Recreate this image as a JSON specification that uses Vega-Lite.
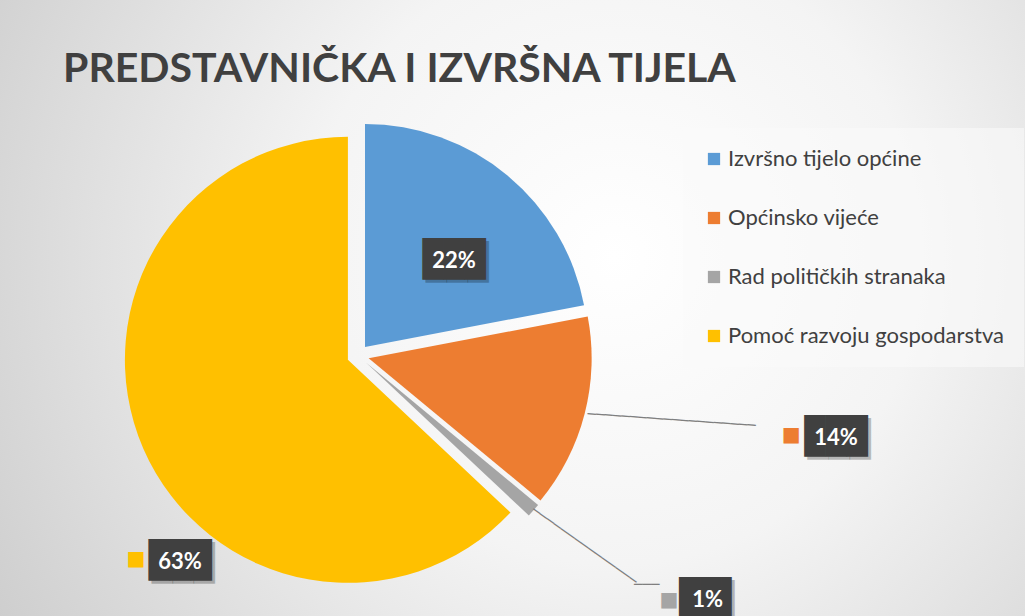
{
  "$schema": "https://vega.github.io/schema/vega-lite/v6.json",
  "width": 1025,
  "height": 616,
  "autosize": "none",
  "padding": 0,
  "background": "#ffffff",
  "title": {
    "text": "PREDSTAVNIČKA I IZVRŠNA TIJELA",
    "orient": "none",
    "anchor": "start",
    "dx": 63,
    "dy": 82,
    "baseline": "alphabetic",
    "font": "Lato",
    "fontSize": 41,
    "fontWeight": "bold",
    "color": "#404040"
  },
  "config": {"view": {"stroke": null}},
  "data": {
    "values": [
      {"cat": "Izvršno tijelo općine", "value": 22, "idx": 1, "label": "22%"},
      {"cat": "Općinsko vijeće", "value": 14, "idx": 2, "label": "14%"},
      {"cat": "Rad političkih stranaka", "value": 1, "idx": 3, "label": "1%"},
      {"cat": "Pomoć razvoju gospodarstva", "value": 63, "idx": 4, "label": "63%"}
    ]
  },
  "layer": [
    {
      "data": {"values": [{}]},
      "mark": {
        "type": "rect",
        "color": {
          "gradient": "radial",
          "x1": 0.6, "y1": 0.45, "r1": 0,
          "x2": 0.6, "y2": 0.45, "r2": 0.75,
          "stops": [
            {"offset": 0, "color": "#ffffff"},
            {"offset": 0.4, "color": "#f4f4f4"},
            {"offset": 1, "color": "#c9c9c9"}
          ]
        }
      },
      "encoding": {
        "x": {"value": 0}, "x2": {"value": "width"},
        "y": {"value": 0}, "y2": {"value": "height"}
      }
    },
    {
      "mark": {"type": "arc", "outerRadius": 223, "xOffset": -147.5, "yOffset": 39},
      "encoding": {
        "theta": {"field": "value", "type": "quantitative", "stack": true},
        "order": {"field": "idx", "type": "quantitative"},
        "color": {
          "field": "cat", "type": "nominal",
          "scale": {
            "domain": ["Izvršno tijelo općine", "Općinsko vijeće", "Rad političkih stranaka", "Pomoć razvoju gospodarstva"],
            "range": ["#5b9bd5", "#ed7d31", "#a5a5a5", "#ffc000"]
          },
          "legend": {
            "title": null, "orient": "none", "legendX": 683, "legendY": 128,
            "symbolType": "square", "symbolSize": 150, "symbolStrokeWidth": 0, "symbolOpacity": 1,
            "labelFontSize": 22, "labelFont": "Lato", "labelColor": "#404040",
            "rowPadding": 37, "padding": 20, "labelOffset": 3, "labelLimit": 400,
            "fillColor": "rgba(250,250,250,0.6)"
          }
        },
        "opacity": {"condition": {"test": "datum.idx === 1", "value": 1}, "value": 0}
      }
    },
    {
      "mark": {"type": "arc", "outerRadius": 223, "xOffset": -143.85, "yOffset": 50.24},
      "encoding": {
        "theta": {"field": "value", "type": "quantitative", "stack": true},
        "order": {"field": "idx", "type": "quantitative"},
        "color": {"field": "cat", "type": "nominal"},
        "opacity": {"condition": {"test": "datum.idx === 2", "value": 1}, "value": 0}
      }
    },
    {
      "mark": {"type": "arc", "outerRadius": 223, "xOffset": -146.25, "yOffset": 54.77},
      "encoding": {
        "theta": {"field": "value", "type": "quantitative", "stack": true},
        "order": {"field": "idx", "type": "quantitative"},
        "color": {"field": "cat", "type": "nominal"},
        "opacity": {"condition": {"test": "datum.idx === 3", "value": 1}, "value": 0}
      }
    },
    {
      "mark": {"type": "arc", "outerRadius": 223, "xOffset": -164.6, "yOffset": 51.87},
      "encoding": {
        "theta": {"field": "value", "type": "quantitative", "stack": true},
        "order": {"field": "idx", "type": "quantitative"},
        "color": {"field": "cat", "type": "nominal"},
        "opacity": {"condition": {"test": "datum.idx === 4", "value": 1}, "value": 0}
      }
    },
    {
      "mark": {"type": "text", "radius": 237, "xOffset": -154.5, "yOffset": 47.5, "align": "left", "baseline": "middle", "angle": 4, "font": "DejaVu Sans Mono", "fontSize": 14, "color": "#7f7f7f"},
      "encoding": {
        "theta": {"field": "value", "type": "quantitative", "stack": true},
        "order": {"field": "idx", "type": "quantitative"},
        "detail": {"field": "cat", "type": "nominal"},
        "text": {"value": "────────────────────"},
        "opacity": {"condition": {"test": "datum.idx === 2", "value": 1}, "value": 0}
      }
    },
    {
      "mark": {"type": "text", "radius": 233, "xOffset": -154.5, "yOffset": 47.5, "align": "left", "baseline": "middle", "angle": 35.4, "font": "DejaVu Sans Mono", "fontSize": 14, "color": "#7f7f7f"},
      "encoding": {
        "theta": {"field": "value", "type": "quantitative", "stack": true},
        "order": {"field": "idx", "type": "quantitative"},
        "detail": {"field": "cat", "type": "nominal"},
        "text": {"value": "───────────────"},
        "opacity": {"condition": {"test": "datum.idx === 3", "value": 1}, "value": 0}
      }
    },
    {
      "mark": {"type": "text", "radius": 360, "xOffset": -154.5, "yOffset": 47.5, "dx": 6, "dy": -8.6, "align": "left", "baseline": "middle", "font": "DejaVu Sans Mono", "fontSize": 14, "color": "#7f7f7f"},
      "encoding": {
        "theta": {"field": "value", "type": "quantitative", "stack": true},
        "order": {"field": "idx", "type": "quantitative"},
        "detail": {"field": "cat", "type": "nominal"},
        "text": {"value": "───"},
        "opacity": {"condition": {"test": "datum.idx === 3", "value": 1}, "value": 0}
      }
    },
    {
      "mark": {"type": "text", "radius": 135, "xOffset": -154.5, "yOffset": 47.5, "dx": 13, "dy": 12, "align": "center", "baseline": "middle", "font": "DejaVu Sans Mono", "fontSize": 35, "color": "#000000", "fillOpacity": 0.25},
      "encoding": {
        "theta": {"field": "value", "type": "quantitative", "stack": true},
        "order": {"field": "idx", "type": "quantitative"},
        "detail": {"field": "cat", "type": "nominal"},
        "text": {"value": "███"},
        "opacity": {"condition": {"test": "datum.idx === 1", "value": 1}, "value": 0}
      }
    },
    {
      "mark": {"type": "text", "radius": 135, "xOffset": -154.5, "yOffset": 47.5, "dx": 10, "dy": 9, "align": "center", "baseline": "middle", "font": "DejaVu Sans Mono", "fontSize": 35, "color": "#404040"},
      "encoding": {
        "theta": {"field": "value", "type": "quantitative", "stack": true},
        "order": {"field": "idx", "type": "quantitative"},
        "detail": {"field": "cat", "type": "nominal"},
        "text": {"value": "███"},
        "opacity": {"condition": {"test": "datum.idx === 1", "value": 1}, "value": 0}
      }
    },
    {
      "mark": {"type": "text", "radius": 135, "xOffset": -154.5, "yOffset": 47.5, "dx": 10, "dy": 10, "align": "center", "baseline": "middle", "font": "Lato", "fontSize": 22, "fontWeight": "bold", "color": "#ffffff"},
      "encoding": {
        "theta": {"field": "value", "type": "quantitative", "stack": true},
        "order": {"field": "idx", "type": "quantitative"},
        "detail": {"field": "cat", "type": "nominal"},
        "text": {"field": "label"},
        "opacity": {"condition": {"test": "datum.idx === 1", "value": 1}, "value": 0}
      }
    },
    {
      "mark": {"type": "text", "radius": 440, "xOffset": -154.5, "yOffset": 47.5, "dx": 7, "dy": -30, "align": "center", "baseline": "middle", "font": "DejaVu Sans", "fontSize": 20, "color": "#ed7d31"},
      "encoding": {
        "theta": {"field": "value", "type": "quantitative", "stack": true},
        "order": {"field": "idx", "type": "quantitative"},
        "detail": {"field": "cat", "type": "nominal"},
        "text": {"value": "■"},
        "opacity": {"condition": {"test": "datum.idx === 2", "value": 1}, "value": 0}
      }
    },
    {
      "mark": {"type": "text", "radius": 480, "xOffset": -154.5, "yOffset": 47.5, "dx": 16, "dy": -35, "align": "center", "baseline": "middle", "font": "DejaVu Sans Mono", "fontSize": 35, "color": "#000000", "fillOpacity": 0.25},
      "encoding": {
        "theta": {"field": "value", "type": "quantitative", "stack": true},
        "order": {"field": "idx", "type": "quantitative"},
        "detail": {"field": "cat", "type": "nominal"},
        "text": {"value": "███"},
        "opacity": {"condition": {"test": "datum.idx === 2", "value": 1}, "value": 0}
      }
    },
    {
      "mark": {"type": "text", "radius": 480, "xOffset": -154.5, "yOffset": 47.5, "dx": 13, "dy": -38, "align": "center", "baseline": "middle", "font": "DejaVu Sans Mono", "fontSize": 35, "color": "#404040"},
      "encoding": {
        "theta": {"field": "value", "type": "quantitative", "stack": true},
        "order": {"field": "idx", "type": "quantitative"},
        "detail": {"field": "cat", "type": "nominal"},
        "text": {"value": "███"},
        "opacity": {"condition": {"test": "datum.idx === 2", "value": 1}, "value": 0}
      }
    },
    {
      "mark": {"type": "text", "radius": 480, "xOffset": -154.5, "yOffset": 47.5, "dx": 13, "dy": -37, "align": "center", "baseline": "middle", "font": "Lato", "fontSize": 22, "fontWeight": "bold", "color": "#ffffff"},
      "encoding": {
        "theta": {"field": "value", "type": "quantitative", "stack": true},
        "order": {"field": "idx", "type": "quantitative"},
        "detail": {"field": "cat", "type": "nominal"},
        "text": {"field": "label"},
        "opacity": {"condition": {"test": "datum.idx === 2", "value": 1}, "value": 0}
      }
    },
    {
      "mark": {"type": "text", "radius": 370, "xOffset": -154.5, "yOffset": 47.5, "dx": 33.5, "dy": 0, "align": "center", "baseline": "middle", "font": "DejaVu Sans", "fontSize": 20, "color": "#a5a5a5"},
      "encoding": {
        "theta": {"field": "value", "type": "quantitative", "stack": true},
        "order": {"field": "idx", "type": "quantitative"},
        "detail": {"field": "cat", "type": "nominal"},
        "text": {"value": "■"},
        "opacity": {"condition": {"test": "datum.idx === 3", "value": 1}, "value": 0}
      }
    },
    {
      "mark": {"type": "text", "radius": 390, "xOffset": -154.5, "yOffset": 47.5, "dx": 63, "dy": -11, "align": "center", "baseline": "middle", "font": "DejaVu Sans Mono", "fontSize": 35, "color": "#000000", "fillOpacity": 0.25},
      "encoding": {
        "theta": {"field": "value", "type": "quantitative", "stack": true},
        "order": {"field": "idx", "type": "quantitative"},
        "detail": {"field": "cat", "type": "nominal"},
        "text": {"value": "██▌"},
        "opacity": {"condition": {"test": "datum.idx === 3", "value": 1}, "value": 0}
      }
    },
    {
      "mark": {"type": "text", "radius": 390, "xOffset": -154.5, "yOffset": 47.5, "dx": 60, "dy": -14, "align": "center", "baseline": "middle", "font": "DejaVu Sans Mono", "fontSize": 35, "color": "#404040"},
      "encoding": {
        "theta": {"field": "value", "type": "quantitative", "stack": true},
        "order": {"field": "idx", "type": "quantitative"},
        "detail": {"field": "cat", "type": "nominal"},
        "text": {"value": "██▌"},
        "opacity": {"condition": {"test": "datum.idx === 3", "value": 1}, "value": 0}
      }
    },
    {
      "mark": {"type": "text", "radius": 390, "xOffset": -154.5, "yOffset": 47.5, "dx": 57, "dy": -13, "align": "center", "baseline": "middle", "font": "Lato", "fontSize": 22, "fontWeight": "bold", "color": "#ffffff"},
      "encoding": {
        "theta": {"field": "value", "type": "quantitative", "stack": true},
        "order": {"field": "idx", "type": "quantitative"},
        "detail": {"field": "cat", "type": "nominal"},
        "text": {"field": "label"},
        "opacity": {"condition": {"test": "datum.idx === 3", "value": 1}, "value": 0}
      }
    },
    {
      "mark": {"type": "text", "radius": 250, "xOffset": -154.5, "yOffset": 47.5, "dx": 7.5, "dy": 104.7, "align": "center", "baseline": "middle", "font": "DejaVu Sans", "fontSize": 20, "color": "#ffc000"},
      "encoding": {
        "theta": {"field": "value", "type": "quantitative", "stack": true},
        "order": {"field": "idx", "type": "quantitative"},
        "detail": {"field": "cat", "type": "nominal"},
        "text": {"value": "■"},
        "opacity": {"condition": {"test": "datum.idx === 4", "value": 1}, "value": 0}
      }
    },
    {
      "mark": {"type": "text", "radius": 250, "xOffset": -154.5, "yOffset": 47.5, "dx": 54.5, "dy": 109, "align": "center", "baseline": "middle", "font": "DejaVu Sans Mono", "fontSize": 35, "color": "#000000", "fillOpacity": 0.25},
      "encoding": {
        "theta": {"field": "value", "type": "quantitative", "stack": true},
        "order": {"field": "idx", "type": "quantitative"},
        "detail": {"field": "cat", "type": "nominal"},
        "text": {"value": "███"},
        "opacity": {"condition": {"test": "datum.idx === 4", "value": 1}, "value": 0}
      }
    },
    {
      "mark": {"type": "text", "radius": 250, "xOffset": -154.5, "yOffset": 47.5, "dx": 51.5, "dy": 106, "align": "center", "baseline": "middle", "font": "DejaVu Sans Mono", "fontSize": 35, "color": "#404040"},
      "encoding": {
        "theta": {"field": "value", "type": "quantitative", "stack": true},
        "order": {"field": "idx", "type": "quantitative"},
        "detail": {"field": "cat", "type": "nominal"},
        "text": {"value": "███"},
        "opacity": {"condition": {"test": "datum.idx === 4", "value": 1}, "value": 0}
      }
    },
    {
      "mark": {"type": "text", "radius": 250, "xOffset": -154.5, "yOffset": 47.5, "dx": 51.5, "dy": 107, "align": "center", "baseline": "middle", "font": "Lato", "fontSize": 22, "fontWeight": "bold", "color": "#ffffff"},
      "encoding": {
        "theta": {"field": "value", "type": "quantitative", "stack": true},
        "order": {"field": "idx", "type": "quantitative"},
        "detail": {"field": "cat", "type": "nominal"},
        "text": {"field": "label"},
        "opacity": {"condition": {"test": "datum.idx === 4", "value": 1}, "value": 0}
      }
    }
  ]
}
